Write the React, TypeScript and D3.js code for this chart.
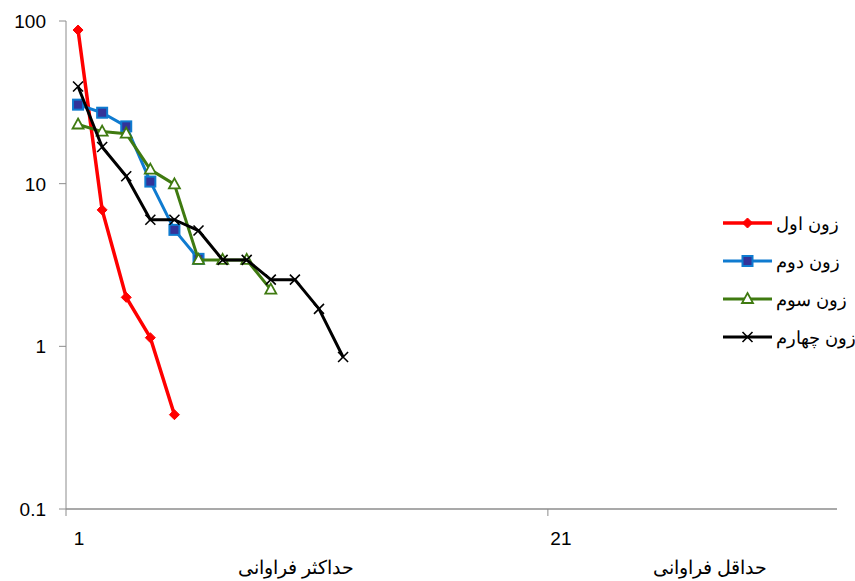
import React from 'react';
import * as d3 from 'd3';

const zone1 = [88, 6.9, 2.0, 1.13, 0.38];
const zone2 = [30.6, 27.3, 22.5, 10.3, 5.2, 3.45];
const zone3 = [23.1, 20.9, 20.3, 12.2, 9.9, 3.4, 3.4, 3.4, 2.23];
const zone4 = [39.6, 16.8, 11.1, 6.0, 6.0, 5.15, 3.4, 3.4, 2.57, 2.57, 1.7, 0.86];

const seriesNames = ['زون اول', 'زون دوم', 'زون سوم', 'زون چهارم'];
const yTicks = [100, 10, 1, 0.1];
const xTickLabels = [1, 21];
const categoryCount = 32;
const bottomLabels = ['حداکثر فراوانی', 'حداقل فراوانی'];

const W = 855;
const H = 581;
const left = 66;
const right = 837;
const top = 21;
const bottom = 509;

const x = d3.scaleLinear().domain([0.5, categoryCount + 0.5]).range([left, right]);
const y = d3.scaleLog().domain([0.1, 100]).range([bottom, top]);

type Marker = 'diamond' | 'square' | 'triangle' | 'cross';

const styles: { color: string; marker: Marker; width: number }[] = [
  { color: '#ff0000', marker: 'diamond', width: 3.5 },
  { color: '#0f7bd0', marker: 'square', width: 3 },
  { color: '#3f7a10', marker: 'triangle', width: 3 },
  { color: '#000000', marker: 'cross', width: 3 },
];

const drawMarker = (m: Marker, cx: number, cy: number, color: string, key: string | number) => {
  if (m === 'diamond') {
    return <path key={key} d={`M${cx},${cy - 5}L${cx + 5},${cy}L${cx},${cy + 5}L${cx - 5},${cy}Z`} fill={color} stroke={color} strokeWidth={1} />;
  }
  if (m === 'square') {
    return <rect key={key} x={cx - 5} y={cy - 5} width={10} height={10} fill="#333399" stroke={color} strokeWidth={2} />;
  }
  if (m === 'triangle') {
    return <path key={key} d={`M${cx},${cy - 6}L${cx + 5.5},${cy + 4}L${cx - 5.5},${cy + 4}Z`} fill="#ffffff" stroke={color} strokeWidth={1.8} />;
  }
  return (
    <path key={key} d={`M${cx - 5},${cy - 5}L${cx + 5},${cy + 5}M${cx + 5},${cy - 5}L${cx - 5},${cy + 5}`} stroke={color} strokeWidth={1.6} />
  );
};

export default function App() {
  const data = [zone1, zone2, zone3, zone4];
  const line = d3
    .line<number>()
    .x((_d, i) => x(i + 1))
    .y((d) => y(d));

  return (
    <svg width={W} height={H} style={{ position: 'absolute', left: 0, top: 0, background: '#fff' }}>
      {/* axes */}
      <line x1={left} x2={left} y1={top} y2={bottom} stroke="#8c8c8c" strokeWidth={1} />
      <line x1={left} x2={right} y1={bottom} y2={bottom} stroke="#8c8c8c" strokeWidth={1.5} />
      {yTicks.map((t) => (
        <g key={t}>
          <line x1={left - 7} x2={left} y1={y(t)} y2={y(t)} stroke="#8c8c8c" />
          <text
            x={46}
            y={y(t)}
            dy="0.36em"
            textAnchor="end"
            fontFamily="Liberation Sans, Arial, sans-serif"
            fontSize={19}
            fill="#000"
          >
            {t}
          </text>
        </g>
      ))}
      {xTickLabels.map((t) => (
        <g key={t}>
          <line x1={x(t - 0.5)} x2={x(t - 0.5)} y1={bottom} y2={bottom + 7} stroke="#8c8c8c" />
          <text
            x={x(t) + 1}
            y={545}
            textAnchor="middle"
            fontFamily="Liberation Sans, Arial, sans-serif"
            fontSize={19}
            fill="#000"
          >
            {t}
          </text>
        </g>
      ))}
      {bottomLabels.map((t, i) => (
        <text
          key={t}
          x={i === 0 ? 296 : 710}
          y={574}
          textAnchor="middle"
          fontFamily="Liberation Serif, DejaVu Serif, serif"
          fontSize={19}
          fill="#000"
        >
          {t}
        </text>
      ))}

      {/* series */}
      {data.map((s, si) => (
        <g key={si}>
          <path d={line(s) ?? ''} fill="none" stroke={styles[si].color} strokeWidth={styles[si].width} strokeLinejoin="round" />
          {s.map((v, i) => drawMarker(styles[si].marker, x(i + 1), y(v), styles[si].color, i))}
        </g>
      ))}

      {/* legend */}
      {seriesNames.map((n, i) => {
        const ly = 223 + i * 38;
        return (
          <g key={n}>
            <line x1={723} x2={772} y1={ly} y2={ly} stroke={styles[i].color} strokeWidth={styles[i].width} />
            {drawMarker(styles[i].marker, 747.5, ly, styles[i].color, 'm')}
            <text x={776} y={ly + 7} fontFamily="Liberation Serif, DejaVu Serif, serif" fontSize={18} fill="#000">
              {n}
            </text>
          </g>
        );
      })}
    </svg>
  );
}
